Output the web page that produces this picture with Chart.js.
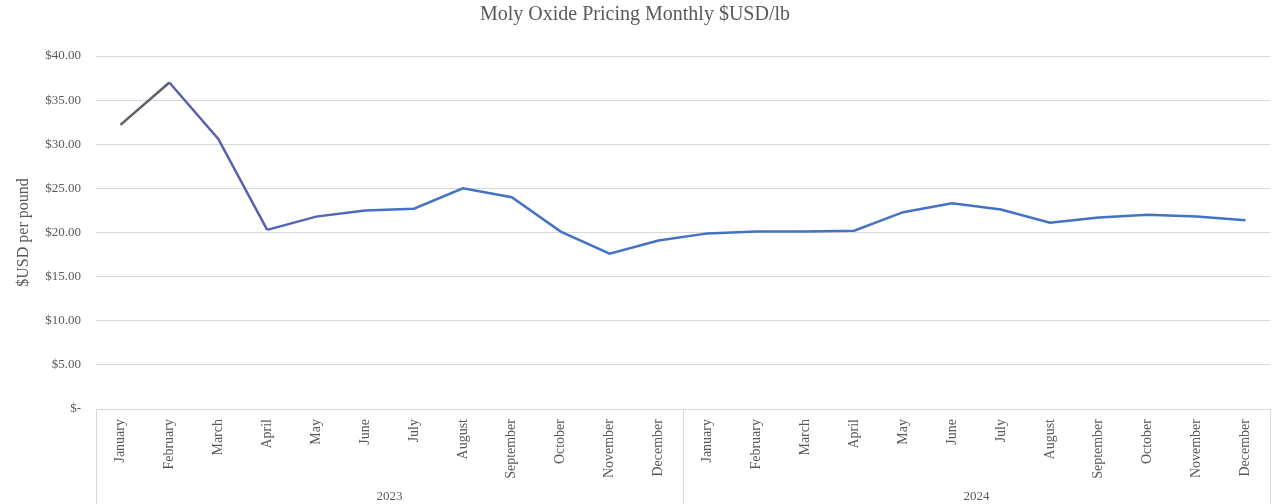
<!DOCTYPE html>
<html>
<head>
<meta charset="utf-8">
<script src="https://cdn.jsdelivr.net/npm/chart.js@4"></script>
<style>
  html, body { margin: 0; padding: 0; background: #fff; }
  #wrap { width: 1283px; height: 504px; }
</style>
</head>
<body>
<div id="wrap"><canvas id="myChart"></canvas></div>
<script>
// data
var months = ["January", "February", "March", "April", "May", "June", "July",
              "August", "September", "October", "November", "December"];
var years = ["2023", "2024"];
var prices2023 = [32.2, 37.0, 30.6, 20.3, 21.8, 22.5, 22.7, 25.0, 24.0, 20.1, 17.6, 19.1];
var prices2024 = [19.9, 20.1, 20.1, 20.2, 22.3, 23.3, 22.6, 21.1, 21.7, 22.0, 21.8, 21.4];
var yTicks = [0, 5, 10, 15, 20, 25, 30, 35, 40];

var labels = months.concat(months);
var prices = prices2023.concat(prices2024);

var serif = "'Liberation Serif', 'Times New Roman', serif";
var textGray = '#595959';
var gridGray = '#d9d9d9';

// vertical separators between the year groups, below the plot
var yearLines = {
  id: 'yearLines',
  afterDraw: function (chart) {
    var x = chart.scales.x;
    var c = chart.ctx;
    var step = x.getPixelForValue(1) - x.getPixelForValue(0);
    var xs = [x.left, x.getPixelForValue(months.length - 1) + step / 2, x.right];
    c.save();
    c.strokeStyle = gridGray;
    c.lineWidth = 1;
    xs.forEach(function (px) {
      px = Math.round(px) + 0.5;
      c.beginPath();
      c.moveTo(px, chart.chartArea.bottom);
      c.lineTo(px, chart.height);
      c.stroke();
    });
    c.restore();
  }
};

var ctx = document.getElementById("myChart");
var myChart = new Chart(ctx, {
  type: 'line',
  data: {
    labels: labels,
    datasets: [
      {
        label: 'Moly Oxide',
        data: prices,
        borderColor: '#4472C4',
        borderWidth: 2.5,
        pointRadius: 0,
        tension: 0,
        segment: {
          borderColor: function (s) {
            if (s.p0DataIndex === 0) return '#5d5f6a';
            if (s.p0DataIndex < 3) return '#5a5fae';
            if (s.p0DataIndex < 5) return '#4f66bb';
            return undefined;
          }
        }
      }
    ]
  },
  options: {
    responsive: true,
    maintainAspectRatio: false,
    animation: false,
    layout: { padding: { left: 0, right: 13, top: 0, bottom: 0 } },
    plugins: {
      legend: { display: false },
      tooltip: { enabled: false },
      title: {
        display: true,
        text: 'Moly Oxide Pricing Monthly $USD/lb',
        color: textGray,
        font: { family: serif, size: 20, weight: 'normal' },
        padding: { top: 3, bottom: 29 }
      }
    },
    scales: {
      x: {
        type: 'category',
        offset: true,
        grid: { display: false },
        border: { display: false },
        ticks: {
          color: textGray,
          font: { family: serif, size: 14 },
          minRotation: 90,
          maxRotation: 90,
          autoSkip: false,
          padding: 2
        },
        afterFit: function (s) { s.height = 72; }
      },
      x2: {
        type: 'category',
        position: 'bottom',
        labels: years,
        offset: true,
        grid: { display: false },
        border: { display: false },
        ticks: { color: textGray, font: { family: serif, size: 13 }, padding: 0 },
        afterFit: function (s) { s.height = 23; }
      },
      y: {
        min: 0,
        max: 40,
        afterBuildTicks: function (s) {
          s.ticks = yTicks.map(function (v) { return { value: v }; });
        },
        grid: { color: gridGray, drawTicks: false },
        border: { display: false },
        ticks: {
          color: textGray,
          font: { family: serif, size: 13 },
          padding: 15,
          callback: function (v) { return v === 0 ? '$-' : '$' + v.toFixed(2); }
        },
        title: {
          display: true,
          text: '$USD per pound',
          color: textGray,
          font: { family: serif, size: 16 },
          padding: { top: 14, bottom: 0 }
        },
        afterFit: function (s) { s.width = 96; }
      }
    }
  },
  plugins: [yearLines]
});
</script>
</body>
</html>
